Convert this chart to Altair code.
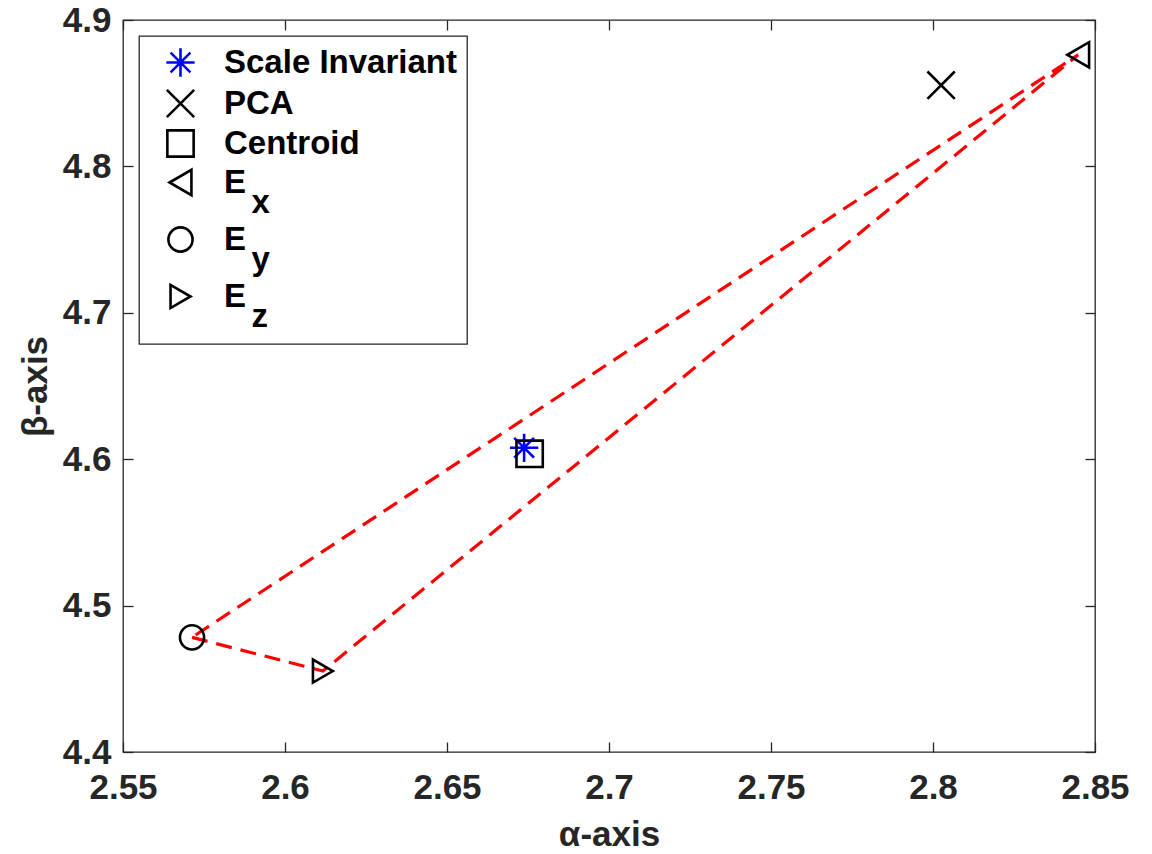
import altair as alt
import pandas as pd

# ---- data ----
methods = ["Scale Invariant", "PCA", "Centroid", "Ex", "Ey", "Ez"]
alpha_vals = [2.6738, 2.8025, 2.6755, 2.8448, 2.5713, 2.6117]
beta_vals = [4.6078, 4.8555, 4.6037, 4.8762, 4.4783, 4.4553]

triangle_path = ["Ey", "Ez", "Ex", "Ey"]

x_ticks = [2.55, 2.6, 2.65, 2.7, 2.75, 2.8, 2.85]
y_ticks = [4.4, 4.5, 4.6, 4.7, 4.8, 4.9]

# ---- styles ----
ASTERISK = "M0,-1L0,1M-1,0L1,0M-0.7,-0.7L0.7,0.7M-0.7,0.7L0.7,-0.7"
XMARK = "M-1,-1L1,1M1,-1L-1,1"
marker_shapes = [ASTERISK, XMARK, "square", "triangle-left", "circle", "triangle-right"]
marker_colors = ["#0000ff", "#000000", "#000000", "#000000", "#000000", "#000000"]
marker_sizes = [800, 530, 300, 1000, 740, 1000]

FONT = "Liberation Sans"
TXT = "#262626"

pts = pd.DataFrame({"method": methods, "alpha": alpha_vals, "beta": beta_vals})
lookup = {m: (a, b) for m, a, b in zip(methods, alpha_vals, beta_vals)}
tri = pd.DataFrame({
    "order": list(range(len(triangle_path))),
    "alpha": [lookup[m][0] for m in triangle_path],
    "beta": [lookup[m][1] for m in triangle_path],
})

xscale = alt.Scale(domain=[2.55, 2.85], nice=False, zero=False)
yscale = alt.Scale(domain=[4.4, 4.9], nice=False, zero=False)

x_bottom = alt.X("alpha:Q", scale=xscale, axis=alt.Axis(
    values=x_ticks, format="~g", orient="bottom", offset=-10, tickSize=10,
    domain=False, grid=False, labelPadding=18, title="α-axis",
    titlePadding=12, labelFlush=False))
y_left = alt.Y("beta:Q", scale=yscale, axis=alt.Axis(
    values=y_ticks, format="~g", orient="left", offset=-10, tickSize=10,
    domain=False, grid=False, labelPadding=12, title="β-axis",
    titlePadding=9, labelFlush=False))

x_top = alt.X("alpha:Q", scale=xscale, axis=alt.Axis(
    values=x_ticks, orient="top", offset=-10, tickSize=10, domain=False,
    grid=False, labels=False, title=None))
y_right = alt.Y("beta:Q", scale=yscale, axis=alt.Axis(
    values=y_ticks, orient="right", offset=-10, tickSize=10, domain=False,
    grid=False, labels=False, title=None))

lines = alt.Chart(tri).mark_line(
    color="#ff0000", strokeWidth=3.2, strokeDash=[16, 9]
).encode(x=x_bottom, y=y_left, order="order:Q")

label_expr = ("indexof(['Ex','Ey','Ez'], datum.label) >= 0 ? "
              "['E', '\u200b\u00a0\u00a0\u00a0' + substring(datum.label, 1)] : datum.label")

points = alt.Chart(pts).mark_point(filled=False, strokeWidth=2.6, opacity=1).encode(
    x=x_top,
    y=y_right,
    shape=alt.Shape("method:N", scale=alt.Scale(domain=methods, range=marker_shapes),
                    legend=alt.Legend(title=None, labelExpr=label_expr)),
    color=alt.Color("method:N", scale=alt.Scale(domain=methods, range=marker_colors),
                    legend=alt.Legend(title=None, labelExpr=label_expr)),
    size=alt.Size("method:N", scale=alt.Scale(domain=methods, range=marker_sizes),
                  legend=None),
)

chart = alt.layer(lines, points).resolve_axis(
    x="independent", y="independent"
).properties(
    width=972, height=732,
    autosize=alt.AutoSizeParams(type="none"),
    padding={"left": 123, "top": 20, "right": 57, "bottom": 102},
    background="white",
).configure(
    style={"guide-label": {"lineHeight": 20}}
).configure_view(
    stroke=TXT, strokeWidth=1.3, fill="white"
).configure_axis(
    labelFont=FONT, labelFontSize=35, labelFontWeight="bold", labelColor=TXT,
    titleFont=FONT, titleFontSize=35, titleFontWeight="bold", titleColor=TXT,
    tickColor=TXT, tickWidth=1.3,
).configure_legend(
    orient="none", legendX=16, legendY=16, padding=10,
    strokeColor=TXT, fillColor="white", strokeWidth=1.3,
    symbolSize=500, symbolStrokeWidth=2.6, symbolOffset=15,
    labelFont=FONT, labelFontSize=33, labelFontWeight="bold", labelColor="#000000",
    labelOffset=27, rowPadding=2, labelLimit=0,
)

chart.save("out.html", embed_options={"renderer": "svg", "actions": False})
